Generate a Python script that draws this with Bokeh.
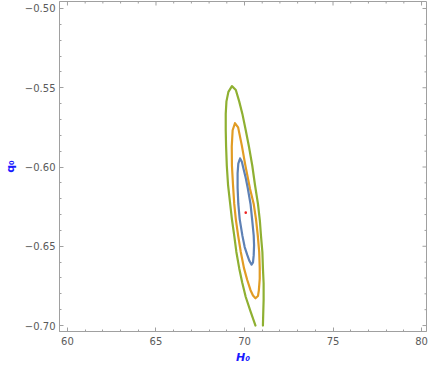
from math import pi
from bokeh.plotting import figure
from bokeh.models import FixedTicker, Range1d, CustomJSTickFormatter
from bokeh.embed import file_html
from bokeh.resources import INLINE

# ---- data ----
# outer (green) contour, open at the bottom edge of the plot range
green_H = [70.62, 70.34, 70.07, 69.87, 69.70, 69.54, 69.42, 69.29, 69.18, 69.07, 69.00, 68.96, 68.94, 68.94,
           68.98, 69.09, 69.29,
           69.51, 69.70, 69.88, 70.07, 70.25, 70.44, 70.59, 70.76, 70.87, 70.93, 71.01, 71.04, 71.08, 71.08,
           71.06, 71.04]
green_q = [-0.7000, -0.6911, -0.6820, -0.6729, -0.6638, -0.6536, -0.6433, -0.6330, -0.6221, -0.6112, -0.5992,
           -0.5871, -0.5768, -0.5665, -0.5586, -0.5526, -0.5490,
           -0.5514, -0.5586, -0.5665, -0.5768, -0.5871, -0.5992, -0.6112, -0.6233, -0.6342, -0.6433, -0.6536,
           -0.6638, -0.6735, -0.6838, -0.6917, -0.7000]

# middle (orange) contour
orange_H = [69.46, 69.33, 69.28, 69.29, 69.35, 69.42, 69.51, 69.64, 69.79, 69.97, 70.15, 70.34, 70.48, 70.62,
            70.76, 70.81, 70.86, 70.86, 70.83, 70.75, 70.65, 70.52, 70.31, 70.04, 69.85, 69.64, 69.46]
orange_q = [-0.5724, -0.5768, -0.5871, -0.5992, -0.6112, -0.6233, -0.6330, -0.6433, -0.6536, -0.6638, -0.6711,
            -0.6777, -0.6811, -0.6828,
            -0.6814, -0.6778, -0.6705, -0.6638, -0.6536, -0.6433, -0.6330, -0.6233, -0.6137, -0.5985, -0.5865,
            -0.5750, -0.5724]

# inner (blue) contour
blue_H = [69.75, 69.65, 69.61, 69.61, 69.65, 69.73, 69.88, 70.01, 70.16, 70.28, 70.40,
          70.48, 70.52, 70.54, 70.52, 70.43, 70.34, 70.18, 70.07, 69.94, 69.85, 69.75]
blue_q = [-0.5946, -0.5979, -0.6040, -0.6131, -0.6233, -0.6330, -0.6433, -0.6505, -0.6556, -0.6593, -0.6616,
          -0.6602, -0.6556, -0.6493, -0.6433, -0.6330, -0.6233, -0.6131, -0.6070, -0.6010, -0.5967, -0.5946]

# best-fit point
best_H = [70.07]
best_q = [-0.6288]

x_ticks = [60, 65, 70, 75, 80]
y_ticks = [-0.70, -0.65, -0.60, -0.55, -0.50]
y_tick_labels = ["\u22120.70", "\u22120.65", "\u22120.60", "\u22120.55", "\u22120.50"]

x_minor = [v for v in range(60, 81) if v % 5 != 0]
y_minor = [round(-0.70 + 0.01 * i, 2) for i in range(21) if i % 5 != 0]

GRAY = "#a0a0a0"
LABEL = "#5a5a5a"
FONT = "DejaVu Sans"
X0, X1 = 59.55, 80.28
Y0, Y1 = -0.70376, -0.4956

p = figure(width=428, height=366, output_backend="svg", toolbar_location=None,
           x_range=Range1d(X0, X1), y_range=Range1d(Y0, Y1),
           x_axis_label="H\u2080", y_axis_label="q\u2080",
           min_border_left=57, min_border_right=2, min_border_top=1, min_border_bottom=33)
p.background_fill_color = "white"
p.border_fill_color = "white"
p.grid.visible = False
p.outline_line_color = GRAY
p.outline_line_width = 1

p.line(green_H, green_q, line_color="#8fb032", line_width=2.2, line_join="round", line_cap="round")
p.line(orange_H, orange_q, line_color="#e19c24", line_width=2.2, line_join="round", line_cap="round")
p.line(blue_H, blue_q, line_color="#5e81b5", line_width=2.2, line_join="round", line_cap="round")
p.scatter(best_H, best_q, size=2.6, color="#ee2222", line_width=0)

# mirrored frame ticks on the top and right edges (clipped to the frame, so they point inward)
p.scatter(x_ticks, [Y1] * len(x_ticks), marker="dash", angle=pi / 2, size=8, line_color=GRAY, line_width=1)
p.scatter(x_minor, [Y1] * len(x_minor), marker="dash", angle=pi / 2, size=4, line_color=GRAY, line_width=1)
p.scatter([X1] * len(y_ticks), y_ticks, marker="dash", size=8, line_color=GRAY, line_width=1)
p.scatter([X1] * len(y_minor), y_minor, marker="dash", size=4, line_color=GRAY, line_width=1)

def style(ax):
    ax.axis_line_color = GRAY
    ax.major_tick_line_color = GRAY
    ax.minor_tick_line_color = GRAY
    ax.major_tick_in = 4
    ax.major_tick_out = 0
    ax.minor_tick_in = 2
    ax.minor_tick_out = 0
    ax.major_label_text_font = FONT
    ax.major_label_text_font_size = "10px"
    ax.major_label_text_color = LABEL

xa = p.xaxis[0]
xa.ticker = FixedTicker(ticks=x_ticks, minor_ticks=x_minor)
style(xa)
xa.major_label_standoff = 5
xa.axis_label_standoff = 3
xa.axis_label_text_font = FONT
xa.axis_label_text_font_size = "11px"
xa.axis_label_text_font_style = "bold italic"
xa.axis_label_text_color = "#1a1aff"

ya = p.yaxis[0]
ya.ticker = FixedTicker(ticks=y_ticks, minor_ticks=y_minor)
style(ya)
ya.formatter = CustomJSTickFormatter(code="return (tick < 0 ? '\\u2212' : '') + Math.abs(tick).toFixed(2);")
ya.major_label_overrides = {t: l for t, l in zip(y_ticks, y_tick_labels)}
ya.major_label_standoff = 4
ya.axis_label_standoff = 5
ya.axis_label_text_font = FONT
ya.axis_label_text_font_size = "11px"
ya.axis_label_text_font_style = "bold"
ya.axis_label_text_color = "#1a1aff"

open("out.html", "w").write(file_html(p, INLINE))
